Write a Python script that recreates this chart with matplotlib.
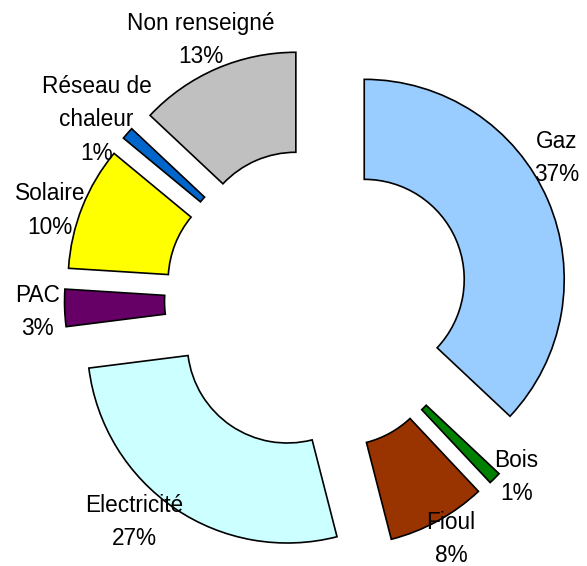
import matplotlib
matplotlib.use("Agg")
import matplotlib.pyplot as plt

# data (share of heating energy, %)
categories = ["Gaz", "Bois", "Fioul", "Electricité", "PAC", "Solaire",
              "Réseau de\nchaleur", "Non renseigné"]
shares = [37, 1, 8, 27, 3, 10, 1, 13]
colors = ["#99CCFF", "#008000", "#993300", "#CCFFFF", "#660066", "#FFFF00",
          "#0066CC", "#C0C0C0"]

# label centres, in pie radius units relative to the pie centre
label_pos = [(1.20, 0.71), (1.00, -0.885), (0.672, -1.195), (-0.91, -1.11),
             (-1.395, -0.06), (-1.333, 0.448), (-1.10, 0.90), (-0.578, 1.30)]

plt.rcParams["font.family"] = ["Liberation Sans", "DejaVu Sans"]

fig = plt.figure(figsize=(5.87, 5.66), dpi=100)
ax = fig.add_axes([0, 0, 1, 1])

ax.pie(shares, explode=[0.26] * len(shares), radius=1.0, startangle=90,
       counterclock=False, colors=colors,
       wedgeprops=dict(width=0.5, edgecolor="black", linewidth=1.2))

for name, val, (x, y) in zip(categories, shares, label_pos):
    ax.text(x, y, f"{name}\n{val}%", ha="center", va="center",
            fontsize=16.3, linespacing=1.58, color="black")

ax.set_xlim(-1.5825, 1.3525)
ax.set_ylim(-1.33, 1.50)
ax.set_aspect("equal")
ax.axis("off")

fig.savefig("out.png", dpi=100, facecolor="white")
